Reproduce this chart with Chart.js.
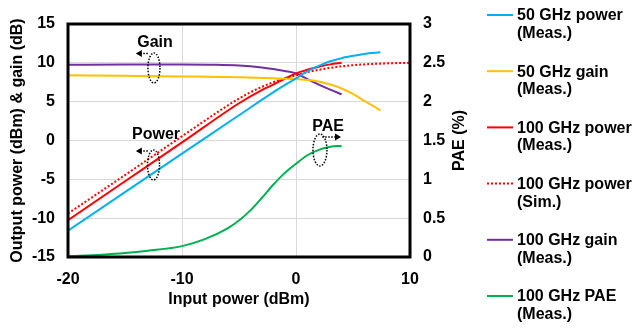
<!DOCTYPE html>
<html>
<head>
<meta charset="utf-8">
<script src="https://cdn.jsdelivr.net/npm/chart.js@4/dist/chart.umd.min.js"></script>
<style>
  html, body { margin: 0; padding: 0; background: #fff; }
  #wrap { width: 636px; height: 331px; }
</style>
</head>
<body>
<div id="wrap"><canvas id="chart" width="636" height="331"></canvas></div>
<script>
// data
const power50X = [-20, -15, -10, -5, -2, 0, 1, 2, 3, 4, 5, 6, 7.4]
const power50Y = [-11.6, -6.65, -1.7, 3.25, 6.2, 8.0, 8.9, 9.6, 10.2, 10.6, 10.9, 11.15, 11.35]

const gain50X = [-20, -15, -10, -5, -2, 0, 1, 2, 3, 4, 5, 6, 7, 7.4]
const gain50Y = [8.4, 8.33, 8.25, 8.14, 8.02, 7.92, 7.8, 7.6, 7.2, 6.7, 6.0, 5.1, 4.25, 3.85]

const power100X = [-20, -15, -10, -5, -3, -2, -1, 0, 1, 2, 3, 4]
const power100Y = [-10.25, -5.25, -0.25, 4.8, 6.5, 7.2, 7.95, 8.65, 9.1, 9.5, 9.8, 10.0]

const sim100X = [-20, -15, -10, -6, -5, -4, -3, -2, -1, 0, 1, 2, 3, 4, 5, 6, 7, 8, 9, 10]
const sim100Y = [-9.4, -4.45, 0.55, 4.5, 5.4, 6.2, 6.9, 7.5, 8.0, 8.4, 8.8, 9.1, 9.35, 9.55, 9.7, 9.8, 9.88, 9.93, 9.97, 10.0]

const gain100X = [-20, -15, -10, -7, -5, -3, -2, -1, 0, 1, 2, 3, 4]
const gain100Y = [9.75, 9.78, 9.78, 9.75, 9.65, 9.4, 9.2, 8.95, 8.65, 7.9, 7.2, 6.55, 5.95]

const pae100X = [-20, -17, -15, -13, -10, -8, -6, -5, -4, -3, -2, -1, 0, 1, 2, 3, 4]
const pae100Y = [0.01, 0.03, 0.05, 0.08, 0.14, 0.23, 0.37, 0.47, 0.6, 0.76, 0.93, 1.08, 1.2, 1.31, 1.38, 1.42, 1.43]

const xTicks = [-20, -10, 0, 10]
const legendNames = [
  ["50 GHz power", "(Meas.)"],
  ["50 GHz gain", "(Meas.)"],
  ["100 GHz power", "(Meas.)"],
  ["100 GHz power", "(Sim.)"],
  ["100 GHz gain", "(Meas.)"],
  ["100 GHz PAE", "(Meas.)"]
]

const FONT = "'Liberation Sans', Arial, sans-serif"
const pts = (xs, ys) => xs.map((x, i) => ({ x: x, y: ys[i] }))

function series(i, xs, ys, color, extra) {
  return Object.assign({
    label: legendNames[i].join(" "),
    data: pts(xs, ys),
    borderColor: color,
    backgroundColor: color,
    borderWidth: 2,
    pointRadius: 0,
    tension: 0.4,
    cubicInterpolationMode: "monotone",
    yAxisID: "y"
  }, extra || {})
}

// frame, callouts, right-hand title and the two-line legend
const decorations = {
  id: "decorations",
  afterDatasetsDraw(chart) {
    const { ctx, chartArea: a } = chart
    ctx.save()
    ctx.strokeStyle = "#000"
    ctx.lineWidth = 3
    ctx.strokeRect(a.left, a.top, a.right - a.left, a.bottom - a.top)
    ctx.restore()
  },
  afterDraw(chart) {
    const { ctx, chartArea: a, scales } = chart
    const px = v => scales.x.getPixelForValue(v)
    const py = v => scales.y.getPixelForValue(v)

    ctx.save()
    ctx.fillStyle = "#000"
    ctx.font = "bold 16px " + FONT
    ctx.textAlign = "center"
    ctx.textBaseline = "middle"

    const notes = [
      { text: "Gain", tx: -12.37, ty: 12.55, ex: -12.46, ey: 9.34, rx: 6, ry: 15, ay: 11.2, a0: -13.0, a1: -14.05 },
      { text: "Power", tx: -12.28, ty: 0.71, ex: -12.5, ey: -3.15, rx: 6, ry: 15, ay: -1.35, a0: -13.0, a1: -14.05 },
      { text: "PAE", tx: 2.81, ty: 1.74, ex: 2.1, ey: -1.22, rx: 7, ry: 16, ay: 0.46, a0: 2.3, a1: 3.95 }
    ]
    notes.forEach(n => {
      ctx.fillText(n.text, px(n.tx), py(n.ty))
      ctx.save()
      ctx.setLineDash([1.5, 1.5])
      ctx.lineWidth = 1.5
      ctx.strokeStyle = "#000"
      ctx.beginPath()
      ctx.ellipse(px(n.ex), py(n.ey), n.rx, n.ry, 0, 0, Math.PI * 2)
      ctx.stroke()
      const x0 = px(n.a0), x1 = px(n.a1), y = py(n.ay)
      const dir = Math.sign(x1 - x0)
      ctx.beginPath()
      ctx.moveTo(x0, y)
      ctx.lineTo(x1 - dir * 4, y)
      ctx.stroke()
      ctx.setLineDash([])
      ctx.beginPath()
      ctx.moveTo(x1, y)
      ctx.lineTo(x1 - dir * 6, y - 3.5)
      ctx.lineTo(x1 - dir * 6, y + 3.5)
      ctx.closePath()
      ctx.fill()
      ctx.restore()
    })

    // right axis title, reading bottom to top
    ctx.save()
    ctx.translate(460, (a.top + a.bottom) / 2)
    ctx.rotate(-Math.PI / 2)
    ctx.fillText("PAE (%)", 0, 0)
    ctx.restore()

    // legend
    ctx.textAlign = "left"
    chart.data.datasets.forEach((ds, i) => {
      const y = 16 + i * 56.2
      ctx.save()
      ctx.strokeStyle = ds.borderColor
      ctx.lineWidth = 2
      if (ds.borderDash) ctx.setLineDash(ds.borderDash)
      ctx.beginPath()
      ctx.moveTo(487, y - 1)
      ctx.lineTo(513, y - 1)
      ctx.stroke()
      ctx.restore()
      ctx.fillText(legendNames[i][0], 517, y)
      ctx.fillText(legendNames[i][1], 517, y + 17.5)
    })
    ctx.restore()
  }
}

new Chart(document.getElementById("chart"), {
  type: "line",
  data: {
    datasets: [
      series(0, power50X, power50Y, "#00b0f0"),
      series(1, gain50X, gain50Y, "#ffc000"),
      series(2, power100X, power100Y, "#ff0000"),
      series(3, sim100X, sim100Y, "#ff0000", { borderDash: [2, 2] }),
      series(4, gain100X, gain100Y, "#7030a0"),
      series(5, pae100X, pae100Y, "#00b050", { yAxisID: "y1" })
    ]
  },
  options: {
    responsive: false,
    animation: false,
    layout: { padding: { left: 0, right: 164, top: 24, bottom: 0 } },
    plugins: { legend: { display: false }, tooltip: { enabled: false } },
    scales: {
      x: {
        type: "linear",
        min: -20, max: 10,
        afterBuildTicks: s => { s.ticks = xTicks.map(v => ({ value: v })) },
        afterFit: s => { s.height = 74 },
        grid: { color: "#d9d9d9", lineWidth: 1, drawTicks: false },
        border: { display: false },
        ticks: { color: "#000", padding: 13, font: { family: FONT, size: 16, weight: "bold" }, maxRotation: 0 },
        title: { display: true, text: "Input power (dBm)", color: "#000", padding: { top: 0, bottom: 22 }, font: { family: FONT, size: 16, weight: "bold" } }
      },
      y: {
        position: "left",
        min: -15, max: 15,
        afterFit: s => { s.width = 68 },
        grid: { color: "#d9d9d9", lineWidth: 1, drawTicks: false },
        border: { display: false },
        ticks: { stepSize: 5, color: "#000", padding: 13, font: { family: FONT, size: 16, weight: "bold" } },
        title: { display: true, text: "Output power (dBm) & gain (dB)", color: "#000", padding: { top: 8, bottom: 0 }, font: { family: FONT, size: 16, weight: "bold" } }
      },
      y1: {
        position: "right",
        min: 0, max: 3,
        afterFit: s => { s.width = 62 },
        grid: { display: false, drawTicks: false },
        border: { display: false },
        ticks: { stepSize: 0.5, color: "#000", padding: 13, font: { family: FONT, size: 16, weight: "bold" }, callback: v => String(v) }
      }
    }
  },
  plugins: [decorations]
})
</script>
</body>
</html>
